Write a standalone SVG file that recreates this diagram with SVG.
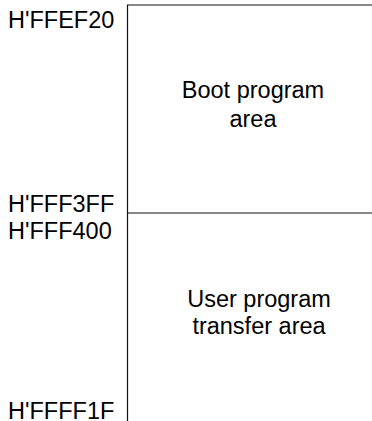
<svg xmlns="http://www.w3.org/2000/svg" width="372" height="421" viewBox="0 0 372 421">
<style>
text{font-family:"Liberation Sans",Arial,sans-serif;font-size:23.5px;fill:#000}
.c{text-anchor:middle}
.ln{stroke:#111;stroke-width:1.2;fill:none}
</style>
<rect width="372" height="421" fill="#fff"/>
<g id="connectors">
<path class="ln" d="M127.5,421 V5 H372"/>
<path class="ln" d="M127.5,213 H372"/>
</g>
<g id="boot">
<text class="c" x="253" y="98">Boot program</text>
<text class="c" x="253" y="127">area</text>
</g>
<g id="user">
<text class="c" x="259" y="307">User program</text>
<text class="c" x="259" y="334">transfer area</text>
</g>
<g id="labels">
<text x="8" y="28">H'FFEF20</text>
<text x="8" y="212">H'FFF3FF</text>
<text x="8" y="239">H'FFF400</text>
<text x="8" y="419">H'FFFF1F</text>
</g>
</svg>
